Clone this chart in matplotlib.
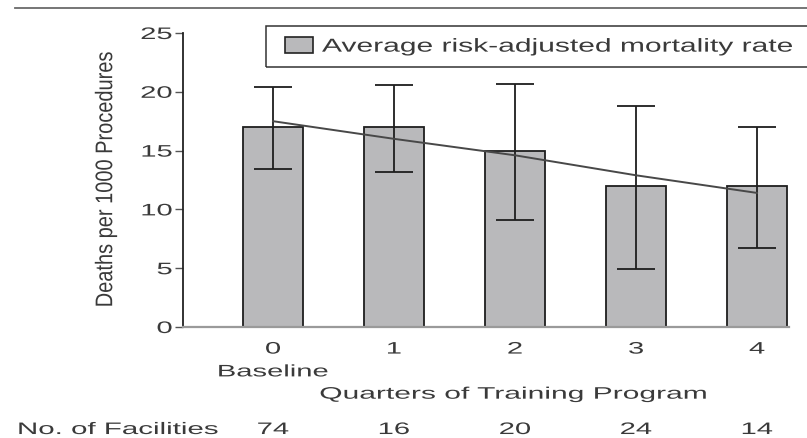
import matplotlib
matplotlib.use("Agg")
import matplotlib.pyplot as plt
from matplotlib.patheffects import AbstractPathEffect
from matplotlib.transforms import Affine2D
from matplotlib.patches import Rectangle, Patch
from matplotlib.lines import Line2D

quarters = [0, 1, 2, 3, 4]
quarter_labels = ["0", "1", "2", "3", "4"]
facilities = [74, 16, 20, 24, 14]
mortality = [17, 17, 15, 12, 12]
ci_low = [13.4, 13.2, 9.1, 4.9, 6.7]
ci_high = [20.4, 20.6, 20.7, 18.8, 17.0]
trend = [17.5, 16.0, 14.6, 12.9, 11.4]

plt.rcParams['font.family'] = ['Liberation Sans', 'DejaVu Sans']
txt = '#3a3a3a'


class Widen(AbstractPathEffect):
    # the scanned figure is stretched sideways, so stretch the glyphs too
    def __init__(self, sx, anchor="center"):
        super().__init__()
        self.sx = sx
        self.anchor = anchor

    def draw_path(self, renderer, gc, tpath, affine, rgbFace=None):
        bb = tpath.get_extents(affine)
        if self.anchor == "left":
            x0 = bb.x0
        elif self.anchor == "right":
            x0 = bb.x1
        else:
            x0 = (bb.x0 + bb.x1) / 2
        st = Affine2D().translate(-x0, 0).scale(self.sx, 1).translate(x0, 0)
        renderer.draw_path(gc, tpath, affine + st, rgbFace)


fig = plt.figure(figsize=(8.07, 4.38), dpi=100)
ax = fig.add_axes([183/807, 111/438, 606/807, 294/438])

lower = [m - lo for m, lo in zip(mortality, ci_low)]
upper = [hi - m for m, hi in zip(mortality, ci_high)]

ax.bar(quarters, mortality, width=0.5, color='#b9b9bb', edgecolor='#1e1e1e',
       linewidth=1.3, zorder=2)
ax.errorbar(quarters, mortality, yerr=[lower, upper], fmt='none', ecolor='#1e1e1e',
            elinewidth=1.3, capsize=14, capthick=1.3, zorder=3)
ax.plot(quarters, trend, color='#484848', lw=1.4, zorder=4)

ax.set_xlim(-0.744, 4.264)
ax.set_ylim(0, 25)
for s in ['top', 'right']:
    ax.spines[s].set_visible(False)
ax.spines['left'].set_color('#222222')
ax.spines['left'].set_linewidth(1.3)
ax.spines['bottom'].set_color('#9a9a9a')
ax.spines['bottom'].set_linewidth(1.6)

ax.set_yticks([0, 5, 10, 15, 20, 25])
ax.tick_params(axis='y', direction='out', length=5.8, width=1.0, color='#555555',
               pad=2, labelsize=12, labelcolor=txt)
ax.set_xticks(quarters, quarter_labels)
ax.tick_params(axis='x', length=0, pad=10.5, labelsize=12, labelcolor=txt)
for lab in ax.get_yticklabels():
    lab.set_path_effects([Widen(1.75, "right")])
for lab in ax.get_xticklabels():
    lab.set_path_effects([Widen(1.75)])

# "Baseline" sits under the 0 tick
t = ax.text(quarters[0], -0.168, 'Baseline', transform=ax.get_xaxis_transform(),
            ha='center', va='baseline', fontsize=12, color=txt)
t.set_path_effects([Widen(1.75)])

ax.set_ylabel('Deaths per 1000 Procedures', fontsize=14.4, color=txt)
ax.yaxis.set_label_coords(-0.112, 0.502)
ax.yaxis.label.set_path_effects([Widen(1.2)])
ax.set_xlabel('Quarters of Training Program', fontsize=12, color=txt)
ax.xaxis.set_label_coords(0.546, -0.203)
ax.xaxis.label.set_path_effects([Widen(1.8)])

t = ax.text(-0.2723, -0.364, 'No. of Facilities', transform=ax.transAxes,
            ha='left', va='baseline', fontsize=12, color=txt)
t.set_path_effects([Widen(1.77, "left")])
for q, n in zip(quarters, facilities):
    t = ax.text(q, -0.364, str(n), transform=ax.get_xaxis_transform(),
                ha='center', va='baseline', fontsize=12, color=txt)
    t.set_path_effects([Widen(1.75)])

# legend box runs off the right edge in the original
fig.add_artist(Rectangle((265.7/807, 1 - 66.7/438), (840 - 265.7)/807, 40.7/438,
                         transform=fig.transFigure, fill=False, edgecolor='#333333',
                         lw=1.1))
handle = Patch(facecolor='#b9b9bb', edgecolor='#222222', lw=1.2)
leg = fig.legend([handle], ['Average risk-adjusted mortality rate'], loc='center left',
                 bbox_to_anchor=(285/807, 1 - 46.5/438), frameon=False, borderpad=0,
                 borderaxespad=0, handlelength=28/18.75, handleheight=17/18.75,
                 handletextpad=9/18.75, fontsize=13.5, labelcolor=txt)
for lt in leg.get_texts():
    lt.set_path_effects([Widen(1.6, "left")])

fig.add_artist(Line2D([15/807, 1], [1 - 7.5/438, 1 - 7.5/438], color='#6a6a6a', lw=1.3))

fig.savefig('out.png', dpi=100)
